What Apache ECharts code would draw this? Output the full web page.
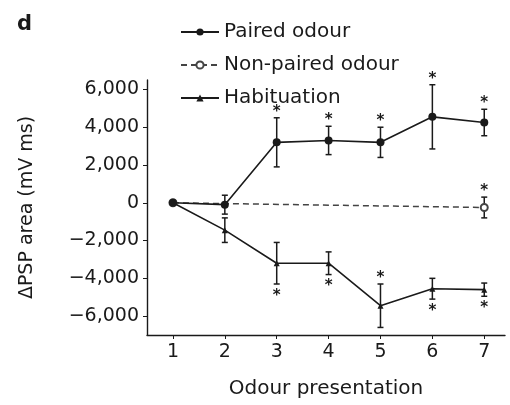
<!DOCTYPE html>
<html>
<head>
<meta charset="utf-8">
<script src="https://cdn.jsdelivr.net/npm/echarts@6/dist/echarts.min.js"></script>
<style>
  html, body { margin: 0; padding: 0; background: #fff; }
  #chart { width: 510px; height: 405px; }
</style>
</head>
<body>
<div id="chart"></div>
<script>
// odour presentation number
var presentations = [1, 2, 3, 4, 5, 6, 7];
// paired odour: mean and s.e.m.
var pairedMean = [0, -100, 3200, 3300, 3200, 4550, 4250];
var pairedErr = [0, 500, 1300, 750, 800, 1700, 700];
// significance star: 1 above, -1 below, 0 none
var pairedStar = [0, 0, 1, 1, 1, 1, 1];
// non-paired odour only measured at 1 and 7
var nonPairedX = [1, 7];
var nonPairedMean = [0, -250];
var nonPairedErr = [0, 550];
var nonPairedStar = [0, 1];
// habituation
var habMean = [0, -1450, -3200, -3200, -5450, -4550, -4600];
var habErr = [0, 650, 1100, 600, 1150, 550, 350];
var habStar = [0, 0, -1, -1, 1, -1, -1];

var yTicks = [-6000, -4000, -2000, 0, 2000, 4000, 6000];

var FONT = "DejaVu Sans";
var INK = "#1a1a1a";

function pairs(xs, ys) {
    return xs.map(function (x, i) { return [x, ys[i]]; });
}
function errData(xs, ys, es, ss) {
    return xs.map(function (x, i) { return [x, ys[i], es[i], ss[i]]; });
}

// error bar with caps and an asterisk
function errRender(params, api) {
    var x = api.value(0), y = api.value(1), e = api.value(2), side = api.value(3);
    var top = api.coord([x, y + e]);
    var bot = api.coord([x, y - e]);
    var st = { stroke: INK, lineWidth: 1.5 };
    var children = [];
    if (e > 0) {
        children.push({ type: "line", shape: { x1: top[0], y1: top[1], x2: bot[0], y2: bot[1] }, style: st });
        children.push({ type: "line", shape: { x1: top[0] - 3, y1: top[1], x2: top[0] + 3, y2: top[1] }, style: st });
        children.push({ type: "line", shape: { x1: bot[0] - 3, y1: bot[1], x2: bot[0] + 3, y2: bot[1] }, style: st });
    }
    if (side !== 0) {
        var py = side > 0 ? top[1] - 6 : bot[1] + 12;
        children.push({
            type: "text",
            style: {
                text: "*", x: top[0], y: py, fill: INK,
                font: "bold 15px " + FONT, align: "center", verticalAlign: "middle"
            }
        });
    }
    return { type: "group", children: children };
}

var chart = echarts.init(document.getElementById("chart"));
chart.setOption({
    animation: false,
    backgroundColor: "#fff",
    grid: { left: 147, right: 5, top: 80, bottom: 70 },
    graphic: [{
        type: "text", left: 17, top: 14,
        style: { text: "d", font: "bold 21px " + FONT, fill: INK }
    }],
    legend: {
        data: ["Paired odour", "Non-paired odour", "Habituation"],
        orient: "vertical",
        left: 175, top: 15,
        itemWidth: 38, itemHeight: 9, itemGap: 9,
        textStyle: { fontFamily: FONT, fontSize: 20, color: INK, lineHeight: 24 }
    },
    xAxis: {
        type: "value", min: 0.5, max: 7.4,
        name: "Odour presentation", nameLocation: "middle", nameGap: 44,
        nameTextStyle: { fontFamily: FONT, fontSize: 20, color: INK },
        axisLine: { onZero: false, lineStyle: { color: INK, width: 1.4 } },
        axisTick: { length: 4, lineStyle: { color: INK }, customValues: presentations },
        axisLabel: { fontFamily: FONT, fontSize: 19, color: INK, margin: 8, customValues: presentations },
        splitLine: { show: false }
    },
    yAxis: {
        type: "value", min: -7000, max: 6500,
        name: "ΔPSP area (mV ms)", nameLocation: "middle", nameGap: 110,
        nameTextStyle: { fontFamily: FONT, fontSize: 19, color: INK },
        axisLine: { show: true, lineStyle: { color: INK, width: 1.4 } },
        axisTick: { show: true, length: 4, lineStyle: { color: INK }, customValues: yTicks },
        axisLabel: {
            fontFamily: FONT, fontSize: 19, color: INK, margin: 8, customValues: yTicks,
            formatter: function (v) {
                var s = Math.abs(v).toLocaleString("en-US");
                return v < 0 ? "\u2212" + s : s;
            }
        },
        splitLine: { show: false }
    },
    series: [
        {
            type: "custom", name: "pairedErr", renderItem: errRender, z: 1,
            data: errData(presentations, pairedMean, pairedErr, pairedStar)
        },
        {
            type: "custom", name: "nonPairedErr", renderItem: errRender, z: 1,
            data: errData(nonPairedX, nonPairedMean, nonPairedErr, nonPairedStar)
        },
        {
            type: "custom", name: "habErr", renderItem: errRender, z: 1,
            data: errData(presentations, habMean, habErr, habStar)
        },
        {
            name: "Non-paired odour", type: "line", z: 2,
            data: pairs(nonPairedX, nonPairedMean),
            symbol: "emptyCircle", symbolSize: 7,
            lineStyle: { color: "#444", width: 1.5, type: [6, 4] },
            itemStyle: { color: "#444", borderWidth: 1.3 }
        },
        {
            name: "Habituation", type: "line", z: 3,
            data: pairs(presentations, habMean),
            symbol: "triangle", symbolSize: 6,
            lineStyle: { color: INK, width: 1.6 },
            itemStyle: { color: INK }
        },
        {
            name: "Paired odour", type: "line", z: 4,
            data: pairs(presentations, pairedMean),
            symbol: "circle", symbolSize: 8,
            lineStyle: { color: INK, width: 1.6 },
            itemStyle: { color: INK }
        }
    ]
});
</script>
</body>
</html>
